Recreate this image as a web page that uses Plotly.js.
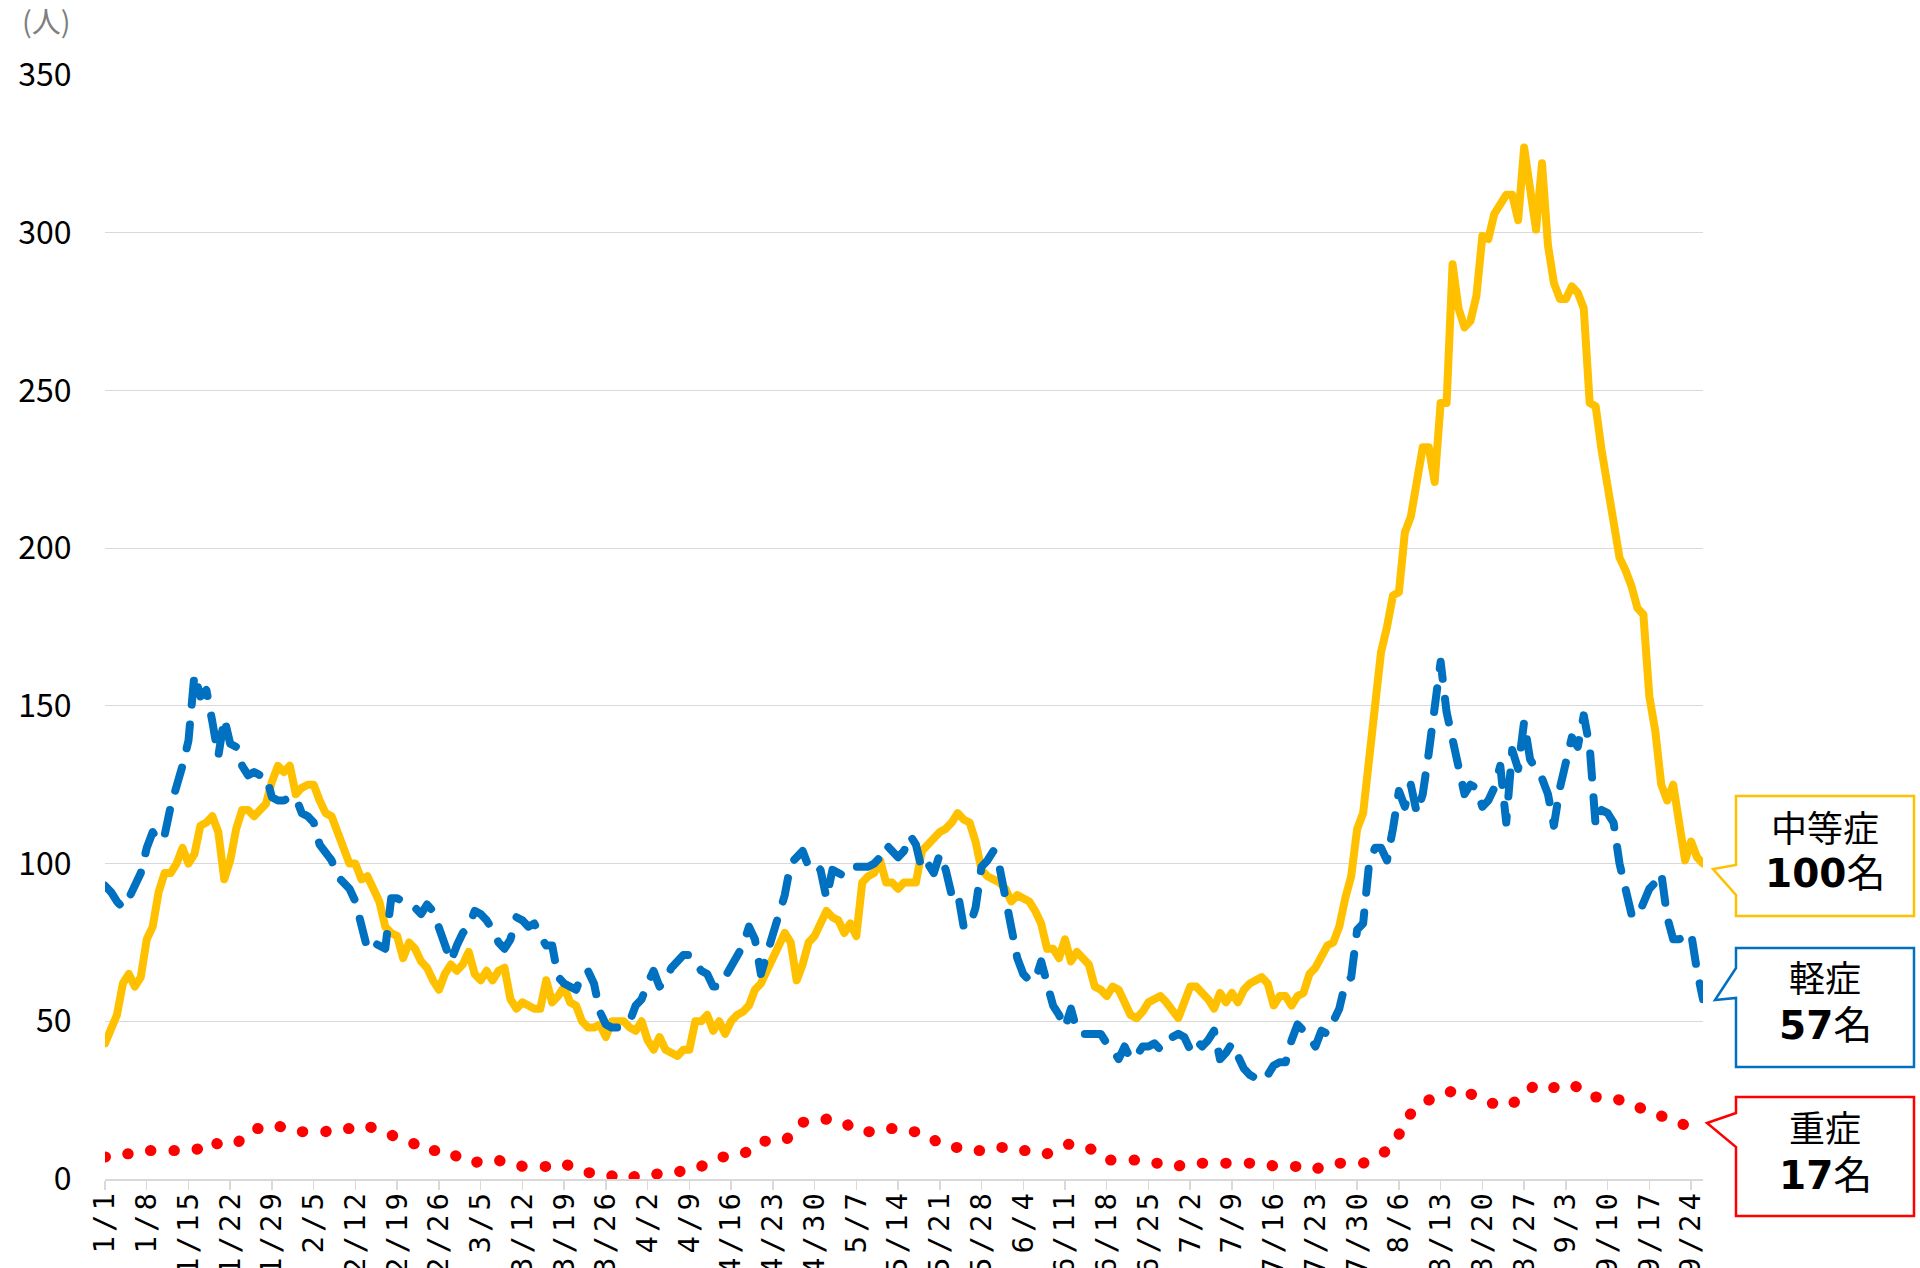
<!DOCTYPE html>
<html>
<head>
<meta charset="utf-8">
<script src="https://cdn.plot.ly/plotly-3.0.1.min.js"></script>
<style>
html,body{margin:0;padding:0;background:#ffffff;}
#chart{width:1920px;height:1268px;}
.js-line{stroke-linecap:round !important;stroke-linejoin:round !important;}
.xtick text{letter-spacing:4px;}
</style>
</head>
<body>
<div id="chart"></div>
<script>
// ---- data (daily, from 2023-01-01) ----
const startDate = [2023, 0, 1];

// 中等症 (moderate)
const moderate = [
  43, 48, 52, 62, 65, 61, 64, 76, 80, 91,
  97, 97, 100, 105, 100, 103, 112, 113, 115, 110,
  95, 101, 111, 117, 117, 115, 117, 119, 126, 131,
  129, 131, 122, 124, 125, 125, 120, 116, 115, 109,
  105, 100, 100, 95, 96, 92, 88, 80, 78, 77,
  70, 75, 73, 69, 67, 63, 60, 65, 68, 66,
  68, 72, 65, 63, 66, 63, 66, 67, 57, 54,
  56, 55, 54, 54, 63, 56, 58, 61, 56, 55,
  50, 48, 48, 49, 45, 50, 50, 50, 48, 47,
  50, 44, 41, 45, 41, 40, 39, 41, 41, 50,
  50, 52, 47, 50, 46, 50, 52, 53, 55, 60,
  62, 66, 70, 74, 78, 75, 63, 68, 75, 77,
  81, 85, 83, 82, 78, 81, 77, 94, 96, 97,
  101, 94, 94, 92, 94, 94, 94, 104, 106, 108,
  110, 111, 113, 116, 114, 113, 107, 98, 96, 95,
  94, 92, 88, 90, 89, 88, 85, 81, 73, 73,
  70, 76, 69, 72, 70, 68, 61, 60, 58, 61,
  60, 56, 52, 51, 53, 56, 57, 58, 56, 53,
  51, 56, 61, 61, 59, 57, 54, 59, 56, 59,
  56, 60, 62, 63, 64, 62, 55, 58, 58, 55,
  58, 59, 65, 67, 70, 74, 75, 80, 89, 96,
  111, 116, 133, 150, 167, 175, 185, 186, 205, 210,
  221, 232, 232, 221, 246, 246, 290, 276, 270, 272,
  280, 299, 298, 306, 309, 312, 312, 304, 327, 314,
  301, 322, 296, 284, 279, 279, 283, 281, 276, 246,
  245, 231, 220, 206, 197, 193, 188, 181, 179, 153,
  142, 125, 120, 125, 113, 101, 107, 102, 100
];

// 軽症 (mild)
const mild = [
  93, 91, 88, 86, 89, 93, 97, 105, 110, 107,
  109, 118, 124, 131, 139, 160, 153, 155, 145, 134,
  146, 138, 137, 131, 128, 129, 128, 128, 121, 120,
  120, 121, 121, 116, 115, 113, 106, 103, 101, 96,
  94, 92, 88, 79, 73, 75, 74, 73, 89, 89,
  88, 87, 86, 84, 87, 85, 80, 75, 69, 74,
  78, 80, 85, 84, 82, 79, 75, 73, 76, 83,
  82, 80, 81, 77, 74, 74, 64, 62, 61, 60,
  65, 66, 62, 53, 49, 48, 48, 49, 50, 55,
  57, 62, 66, 61, 63, 67, 69, 71, 71, 69,
  66, 65, 61, 61, 64, 67, 71, 74, 80, 76,
  65, 71, 78, 82, 90, 100, 102, 104, 99, 100,
  98, 89, 98, 97, 96, 98, 99, 99, 99, 100,
  102, 106, 104, 102, 104, 109, 106, 98, 100, 97,
  103, 98, 90, 91, 80, 80, 86, 99, 101, 104,
  99, 89, 79, 70, 65, 63, 63, 69, 62, 55,
  52, 48, 54, 47, 46, 46, 46, 46, 43, 41,
  38, 42, 38, 39, 42, 42, 43, 41, 43, 45,
  46, 45, 41, 44, 42, 44, 47, 38, 40, 43,
  39, 35, 33, 32, 31, 33, 36, 37, 37, 44,
  49, 47, 45, 42, 47, 46, 50, 54, 62, 64,
  79, 81, 100, 105, 105, 101, 111, 123, 118, 125,
  116, 122, 135, 150, 164, 148, 140, 131, 122, 125,
  124, 118, 120, 124, 131, 113, 136, 130, 145, 133,
  130, 127, 122, 112, 124, 131, 140, 137, 147, 137,
  112, 117, 116, 113, 100, 92, 84, 83, 88, 92,
  94, 97, 83, 76, 76, 77, 78, 66, 57
];

// 重症 (severe)
const severe = [
  7, 7, 7, 8, 8, 8, 8, 9, 9, 9,
  9, 9, 9, 9, 9, 9, 10, 12, 12, 11,
  11, 11, 11, 13, 15, 16, 16, 17, 17, 17,
  16, 15, 15, 15, 15, 15, 15, 15, 16, 16,
  16, 16, 17, 17, 17, 16, 15, 15, 14, 13,
  12, 12, 11, 9, 9, 9, 9, 9, 9, 7,
  6, 5, 5, 6, 6, 6, 6, 5, 5, 5,
  4, 4, 4, 4, 4, 5, 5, 5, 4, 3,
  3, 2, 2, 1, 1, 1, 0, 0, 0, 1,
  1, 1, 1, 2, 2, 2, 2, 3, 3, 4,
  4, 5, 6, 7, 7, 8, 8, 8, 9, 10,
  12, 12, 12, 12, 12, 14, 17, 18, 18, 18,
  18, 19, 19, 19, 18, 16, 15, 15, 15, 15,
  15, 16, 16, 16, 16, 15, 15, 15, 14, 12,
  11, 11, 10, 10, 10, 9, 9, 9, 9, 10,
  10, 10, 9, 9, 9, 9, 8, 8, 8, 9,
  10, 11, 11, 11, 11, 10, 8, 7, 6, 6,
  6, 6, 6, 6, 6, 6, 5, 5, 4, 4,
  4, 5, 5, 5, 5, 5, 5, 5, 5, 5,
  5, 5, 5, 5, 5, 5, 4, 4, 4, 4,
  4, 3, 3, 3, 4, 4, 5, 5, 5, 5,
  5, 5, 6, 7, 8, 9, 11, 14, 19, 21,
  23, 24, 25, 26, 27, 27, 28, 29, 28, 27,
  26, 25, 24, 24, 23, 23, 24, 25, 27, 29,
  30, 30, 29, 29, 30, 30, 30, 29, 27, 26,
  26, 26, 26, 26, 25, 25, 24, 23, 22, 21,
  21, 20, 19, 18, 18, 17, 17, 17, 17
];

const seriesNames = ['重症', '中等症', '軽症'];
const yTicks = [0, 50, 100, 150, 200, 250, 300, 350];
const unitLabel = '(人)';
const callouts = [
  {name: '中等症', value: '100'},
  {name: '軽症', value: '57'},
  {name: '重症', value: '17'}
];

// dates for each daily point
const dates = moderate.map((_, i) => {
  const d = new Date(Date.UTC(startDate[0], startDate[1], startDate[2] + i));
  return d.toISOString().slice(0, 10);
});

// ---- layout geometry ----
const W = 1920, H = 1268, L = 105, R = 217, T = 75, B = 89;
const pw = W - L - R, ph = H - T - B;
const px = X => (X - L) / pw;
const py = Y => (H - B - Y) / ph;

function calloutPath(x0, y0, x1, y1, a1, tx, ty, a2) {
  const p = (X, Y) => px(X).toFixed(5) + ',' + py(Y).toFixed(5);
  return 'M' + p(x0, y0) + ' L' + p(x1, y0) + ' L' + p(x1, y1) + ' L' + p(x0, y1) +
         ' L' + p(x0, a2) + ' L' + p(tx, ty) + ' L' + p(x0, a1) + ' Z';
}

const boxes = [
  {color: '#FFC000', y0: 796, y1: 916, a1: 865, tx: 1713, ty: 869, a2: 895, t1: 826, t2: 874},
  {color: '#0070C0', y0: 948, y1: 1067, a1: 968, tx: 1715, ty: 1000, a2: 998, t1: 976, t2: 1025},
  {color: '#FF0000', y0: 1097, y1: 1216, a1: 1113, tx: 1707, ty: 1123, a2: 1147, t1: 1126, t2: 1175}
];

const shapes = boxes.map(b => ({
  type: 'path', xref: 'paper', yref: 'paper',
  path: calloutPath(1736, b.y0, 1914, b.y1, b.a1, b.tx, b.ty, b.a2),
  line: {color: b.color, width: 2.5}, fillcolor: '#ffffff', layer: 'above'
}));

const annotations = [];
annotations.push({
  xref: 'paper', yref: 'paper', x: px(46), y: py(20), xanchor: 'center', yanchor: 'middle',
  text: unitLabel, showarrow: false,
  font: {family: 'Noto Sans CJK JP', size: 29, color: '#7f7f7f'}
});
boxes.forEach((b, i) => {
  annotations.push({
    xref: 'paper', yref: 'paper', x: px(1825), y: py(b.t1), xanchor: 'center', yanchor: 'middle',
    text: callouts[i].name, showarrow: false,
    font: {family: 'Noto Sans CJK JP', size: 36, color: '#000000'}
  });
  annotations.push({
    xref: 'paper', yref: 'paper', x: px(1825), y: py(b.t2), xanchor: 'center', yanchor: 'middle',
    text: '<b>' + callouts[i].value + '</b>名', showarrow: false,
    font: {family: 'DejaVu Sans, Noto Sans CJK JP', size: 39, color: '#000000'}
  });
});

const traces = [
  {x: dates, y: severe, name: seriesNames[0], type: 'scatter', mode: 'lines',
   line: {color: '#FF0000', width: 11, dash: '0.5px,23px'}},
  {x: dates, y: moderate, name: seriesNames[1], type: 'scatter', mode: 'lines',
   line: {color: '#FFC000', width: 8}},
  {x: dates, y: mild, name: seriesNames[2], type: 'scatter', mode: 'lines',
   line: {color: '#0070C0', width: 8, dash: '24px,20px'}}
];

const layout = {
  width: W, height: H,
  margin: {l: L, r: R, t: T, b: B, pad: 0},
  paper_bgcolor: '#ffffff', plot_bgcolor: '#ffffff',
  showlegend: false,
  xaxis: {
    type: 'date',
    range: [dates[0], dates[dates.length - 1]],
    tick0: dates[0], dtick: 7 * 86400000, tickformat: '%-m/%-d',
    tickangle: -90,
    ticks: 'outside', ticklen: 9, tickwidth: 1.5, tickcolor: '#d9d9d9',
    ticklabelstandoff: -12,
    showline: true, linecolor: '#d9d9d9', linewidth: 1.5,
    showgrid: false, zeroline: false,
    tickfont: {family: 'DejaVu Sans Mono', size: 29, color: '#000000'}
  },
  yaxis: {
    range: [0, 350], tickvals: yTicks,
    ticks: 'outside', ticklen: 26, tickcolor: 'rgba(0,0,0,0)',
    showgrid: true, gridcolor: '#d9d9d9', gridwidth: 1,
    zeroline: false, showline: false,
    tickfont: {family: 'Noto Sans CJK JP', size: 32, color: '#000000'}
  },
  shapes: shapes,
  annotations: annotations
};

Plotly.newPlot('chart', traces, layout, {displayModeBar: false, staticPlot: true});
</script>
</body>
</html>
